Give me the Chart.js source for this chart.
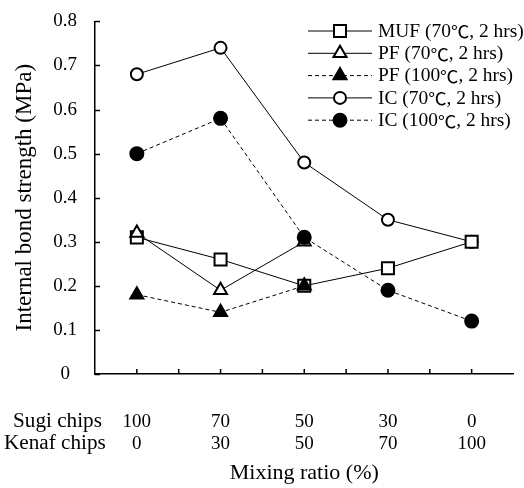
<!DOCTYPE html>
<html>
<head>
<meta charset="utf-8">
<script src="https://cdn.jsdelivr.net/npm/chart.js@4.4.1/dist/chart.umd.min.js"></script>
<style>
  html, body { margin: 0; padding: 0; background: #fff; }
  #wrap { width: 524px; height: 488px; }
</style>
</head>
<body>
<div id="wrap"><canvas id="ibChart" width="524" height="488"></canvas></div>
<script>
// mixing ratio labels
const sugiChips = ['100', '70', '50', '30', '0'];
const kenafChips = ['0', '30', '50', '70', '100'];

// internal bond strength (MPa)
const mufValues = [0.31, 0.26, 0.20, 0.24, 0.30];
const pf70Values = [0.32, 0.19, 0.30, null, null];
const pf100Values = [0.18, 0.14, 0.20, null, null];
const ic70Values = [0.68, 0.74, 0.48, 0.35, 0.30];
const ic100Values = [0.50, 0.58, 0.31, 0.19, 0.12];

const yTicks = [0, 0.1, 0.2, 0.3, 0.4, 0.5, 0.6, 0.7, 0.8];

const serif = '"Liberation Serif", "Times New Roman", serif';

const mk = (label, data, style, filled, dashed, radius, order) => ({
    label: label,
    data: data,
    borderColor: '#000',
    borderWidth: 1,
    borderDash: dashed ? [4, 3] : [],
    pointStyle: style,
    pointRadius: radius,
    pointBackgroundColor: filled ? '#000' : '#fff',
    pointBorderColor: '#000',
    pointBorderWidth: 2,
    spanGaps: false,
    fill: false,
    tension: 0,
    order: order
});

// text a bit wider than the font, with a full width degree sign
const wideText = (ctx, text, x, y, size, sx) => {
    ctx.save();
    ctx.translate(x, y);
    ctx.scale(sx, 1);
    ctx.textAlign = 'left';
    const parts = text.split('\u2103');
    let cx = 0;
    parts.forEach((p, i) => {
        ctx.font = size + 'px ' + serif;
        ctx.fillText(p, cx, 0);
        cx += ctx.measureText(p).width;
        if (i < parts.length - 1) {
            ctx.font = (size - 1) + 'px "Noto Sans CJK JP"';
            ctx.fillText('\u2103', cx, 0);
            cx += ctx.measureText('\u2103').width;
        }
    });
    ctx.restore();
};

// inward tick marks, row titles and the legend
const extras = {
    id: 'extras',
    afterDraw(chart) {
        const ctx = chart.ctx;
        const x = chart.scales.x;
        const y = chart.scales.y;
        const area = chart.chartArea;
        ctx.save();
        ctx.strokeStyle = '#000';
        ctx.lineWidth = 1.5;
        ctx.setLineDash([]);
        ctx.beginPath();
        for (const v of yTicks) {
            const py = Math.round(y.getPixelForValue(v)) + 0.5;
            ctx.moveTo(area.left, py);
            ctx.lineTo(area.left + 5, py);
        }
        for (let i = 0; i < sugiChips.length; i++) {
            const px = x.getPixelForValue(i);
            ctx.moveTo(px, area.bottom);
            ctx.lineTo(px, area.bottom - 5);
            if (i < sugiChips.length - 1) {
                const mid = (px + x.getPixelForValue(i + 1)) / 2;
                ctx.moveTo(mid, area.bottom);
                ctx.lineTo(mid, area.bottom - 5);
            }
        }
        ctx.stroke();

        ctx.fillStyle = '#000';
        ctx.textBaseline = 'middle';
        wideText(ctx, 'Sugi chips', 13, 422, 20, 1.06);
        wideText(ctx, 'Kenaf chips', 4, 444, 20, 1.06);

        // legend
        const lx0 = 308, lx1 = 372, mx = 340, tx = 378;
        chart.data.datasets.forEach((ds, i) => {
            const ly = 31 + i * 22.3;
            ctx.lineWidth = 1;
            ctx.setLineDash(ds.borderDash);
            ctx.beginPath();
            ctx.moveTo(lx0, ly);
            ctx.lineTo(lx1, ly);
            ctx.stroke();
            ctx.setLineDash([]);
            ctx.lineWidth = 2;
            ctx.fillStyle = ds.pointBackgroundColor;
            Chart.helpers.drawPoint(ctx, {
                pointStyle: ds.pointStyle,
                radius: ds.pointRadius,
                rotation: 0,
                borderWidth: 2
            }, mx, ly);
            ctx.fillStyle = '#000';
            wideText(ctx, ds.label, tx, ly + 1, 18, 1.08);
        });
        ctx.restore();
    }
};

new Chart(document.getElementById('ibChart').getContext('2d'), {
    type: 'line',
    data: {
        labels: sugiChips,
        datasets: [
            mk('MUF (70\u2103, 2 hrs)', mufValues, 'rect', false, false, 8.5, 4),
            mk('PF (70\u2103, 2 hrs)', pf70Values, 'triangle', false, false, 7.5, 3),
            mk('PF (100\u2103, 2 hrs)', pf100Values, 'triangle', true, true, 7.5, 2),
            mk('IC (70\u2103, 2 hrs)', ic70Values, 'circle', false, false, 6, 5),
            mk('IC (100\u2103, 2 hrs)', ic100Values, 'circle', true, true, 6.5, 1)
        ]
    },
    options: {
        responsive: false,
        animation: false,
        layout: { padding: { top: 6, right: 0, left: 0, bottom: 0 } },
        plugins: {
            legend: { display: false },
            tooltip: { enabled: false }
        },
        scales: {
            x: {
                type: 'category',
                offset: true,
                grid: { display: false },
                border: { display: true, color: '#000', width: 1.5 },
                ticks: {
                    color: '#000',
                    font: { family: serif, size: 19, lineHeight: 1.15 },
                    padding: 29,
                    maxRotation: 0,
                    autoSkip: false,
                    callback: (v, i) => [sugiChips[i], kenafChips[i]]
                },
                title: {
                    display: true,
                    text: 'Mixing ratio (%)',
                    color: '#000',
                    font: { family: serif, size: 22 },
                    padding: { top: 0, bottom: 2 }
                },
                afterFit: (s) => { s.height = 114; }
            },
            y: {
                min: 0,
                max: 0.8,
                grid: { display: false },
                border: { display: true, color: '#000', width: 1.5 },
                afterBuildTicks: (s) => { s.ticks = yTicks.map(v => ({ value: v })); },
                ticks: {
                    color: '#000',
                    font: { family: serif, size: 19 },
                    crossAlign: 'center',
                    padding: 10,
                    callback: (v) => String(Math.round(v * 10) / 10)
                },
                title: {
                    display: true,
                    text: 'Internal bond strength (MPa)',
                    color: '#000',
                    font: { family: serif, size: 23 },
                    padding: { top: 11, bottom: 0 }
                },
                afterFit: (s) => { s.width = 95; }
            }
        }
    },
    plugins: [extras]
});
</script>
</body>
</html>
